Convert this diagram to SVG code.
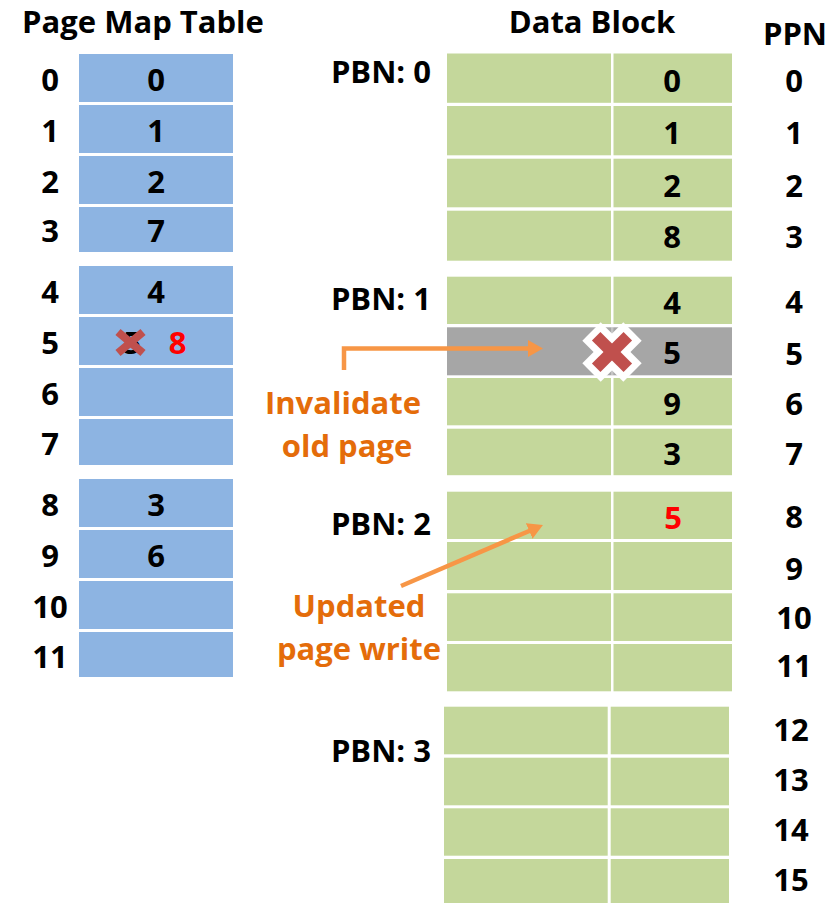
<svg xmlns="http://www.w3.org/2000/svg" width="833" height="903" viewBox="0 0 833 903">
<style>
text{font-family:"Open Sans","Noto Sans","Liberation Sans",sans-serif;font-weight:bold;font-size:31px;fill:#000}
.c{text-anchor:middle}
.r{text-anchor:end}
.red{fill:#ff0000}
.org{fill:#e46c0a}
.pm{fill:#8db4e2}
.db{fill:#c4d79b}
.gr{fill:#a6a6a6}
.arr{fill:none;stroke:#f79646;stroke-width:4.5}
.xr{stroke:#c0504d;stroke-linecap:butt}
</style>
<defs>
<marker id="ah" markerUnits="userSpaceOnUse" markerWidth="16" markerHeight="18" refX="2" refY="8.5" orient="auto">
<path d="M0,0 L15,8.5 L0,17 z" fill="#f79646"/>
</marker>
</defs>
<rect width="833" height="903" fill="#fff"/>

<g id="titles">
<text class="c" x="143" y="33">Page Map Table</text>
<text class="c" x="592" y="33">Data Block</text>
<text class="c" x="795" y="45">PPN</text>
</g>

<g id="page-map-table">
<g id="lpn0"><rect class="pm" x="79" y="54" width="154" height="48"/><text class="c" x="50" y="91">0</text><text class="c" x="156" y="91">0</text></g>
<g id="lpn1"><rect class="pm" x="79" y="105" width="154" height="48"/><text class="c" x="50" y="142">1</text><text class="c" x="156" y="142">1</text></g>
<g id="lpn2"><rect class="pm" x="79" y="156" width="154" height="48"/><text class="c" x="50" y="193">2</text><text class="c" x="156" y="193">2</text></g>
<g id="lpn3"><rect class="pm" x="79" y="207" width="154" height="45"/><text class="c" x="50" y="242">3</text><text class="c" x="156" y="242">7</text></g>
<g id="lpn4"><rect class="pm" x="79" y="266" width="154" height="48"/><text class="c" x="50" y="303">4</text><text class="c" x="156" y="303">4</text></g>
<g id="lpn5"><rect class="pm" x="79" y="317" width="154" height="48"/><text class="c" x="50" y="354">5</text><text class="c" x="132" y="354">5</text>
<line class="xr" x1="118" y1="332" x2="143" y2="353" stroke-width="8"/><line class="xr" x1="143" y1="332" x2="118" y2="353" stroke-width="8"/>
<text class="c red" x="177.5" y="354">8</text></g>
<g id="lpn6"><rect class="pm" x="79" y="368" width="154" height="48"/><text class="c" x="50" y="405">6</text></g>
<g id="lpn7"><rect class="pm" x="79" y="419" width="154" height="46"/><text class="c" x="50" y="455">7</text></g>
<g id="lpn8"><rect class="pm" x="79" y="479" width="154" height="48"/><text class="c" x="50" y="516">8</text><text class="c" x="156" y="516">3</text></g>
<g id="lpn9"><rect class="pm" x="79" y="530" width="154" height="48"/><text class="c" x="50" y="567">9</text><text class="c" x="156" y="567">6</text></g>
<g id="lpn10"><rect class="pm" x="79" y="581" width="154" height="48"/><text class="c" x="50" y="618">10</text></g>
<g id="lpn11"><rect class="pm" x="79" y="632" width="154" height="45"/><text class="c" x="50" y="668">11</text></g>
</g>

<g id="data-block">
<g id="pbn0">
<text class="r" x="431" y="83">PBN: 0</text>
<rect class="db" x="447" y="53.5" width="164" height="49.3"/><rect class="db" x="613.5" y="53.5" width="118.5" height="49.3"/>
<rect class="db" x="447" y="106" width="164" height="49.3"/><rect class="db" x="613.5" y="106" width="118.5" height="49.3"/>
<rect class="db" x="447" y="158.7" width="164" height="48.6"/><rect class="db" x="613.5" y="158.7" width="118.5" height="48.6"/>
<rect class="db" x="447" y="210.7" width="164" height="50"/><rect class="db" x="613.5" y="210.7" width="118.5" height="50"/>
<text class="c" x="672" y="92">0</text><text class="c" x="672" y="144">1</text><text class="c" x="672" y="197">2</text><text class="c" x="672" y="248">8</text>
</g>
<g id="pbn1">
<text class="r" x="431" y="310">PBN: 1</text>
<rect class="db" x="447" y="276.7" width="164" height="47.3"/><rect class="db" x="613.5" y="276.7" width="118.5" height="47.3"/>
<rect class="gr" x="447" y="327.3" width="285" height="48"/><line x1="612.2" y1="327.3" x2="612.2" y2="375.3" stroke="#fff" stroke-opacity="0.35" stroke-width="2.5"/>
<rect class="db" x="447" y="378" width="164" height="47.3"/><rect class="db" x="613.5" y="378" width="118.5" height="47.3"/>
<rect class="db" x="447" y="428.7" width="164" height="46.5"/><rect class="db" x="613.5" y="428.7" width="118.5" height="46.5"/>
<text class="c" x="672" y="314">4</text><text class="c" x="672" y="364">5</text><text class="c" x="672" y="415">9</text><text class="c" x="672" y="465">3</text>
</g>
<g id="pbn2">
<text class="r" x="431" y="535">PBN: 2</text>
<rect class="db" x="447" y="491.7" width="164" height="47.3"/><rect class="db" x="613.5" y="491.7" width="118.5" height="47.3"/>
<rect class="db" x="447" y="542" width="164" height="48"/><rect class="db" x="613.5" y="542" width="118.5" height="48"/>
<rect class="db" x="447" y="593.3" width="164" height="47.7"/><rect class="db" x="613.5" y="593.3" width="118.5" height="47.7"/>
<rect class="db" x="447" y="644" width="164" height="47.3"/><rect class="db" x="613.5" y="644" width="118.5" height="47.3"/>
<text class="c red" x="673" y="529">5</text>
</g>
<g id="pbn3">
<text class="r" x="431" y="762">PBN: 3</text>
<rect class="db" x="444" y="706.7" width="163.7" height="47.6"/><rect class="db" x="610.7" y="706.7" width="118.3" height="47.6"/>
<rect class="db" x="444" y="757.7" width="163.7" height="47.6"/><rect class="db" x="610.7" y="757.7" width="118.3" height="47.6"/>
<rect class="db" x="444" y="808.3" width="163.7" height="47.4"/><rect class="db" x="610.7" y="808.3" width="118.3" height="47.4"/>
<rect class="db" x="444" y="859" width="163.7" height="44"/><rect class="db" x="610.7" y="859" width="118.3" height="44"/>
</g>
</g>

<g id="ppn-labels">
<text class="c" x="794" y="92">0</text>
<text class="c" x="794" y="144">1</text>
<text class="c" x="794" y="197">2</text>
<text class="c" x="794" y="248">3</text>
<text class="c" x="794" y="313">4</text>
<text class="c" x="794" y="365">5</text>
<text class="c" x="794" y="415">6</text>
<text class="c" x="794" y="465">7</text>
<text class="c" x="794" y="528">8</text>
<text class="c" x="794" y="580">9</text>
<text class="c" x="794" y="629">10</text>
<text class="c" x="794" y="677">11</text>
<text class="c" x="791" y="741">12</text>
<text class="c" x="791" y="791">13</text>
<text class="c" x="791" y="841">14</text>
<text class="c" x="791" y="891">15</text>
</g>

<g id="invalid-mark">
<line x1="591.5" y1="331.5" x2="632.5" y2="372.5" stroke="#fff" stroke-width="26"/>
<line x1="632.5" y1="331.5" x2="591.5" y2="372.5" stroke="#fff" stroke-width="26"/>
<line class="xr" x1="596.2" y1="336.2" x2="627.8" y2="367.8" stroke-width="12"/>
<line class="xr" x1="627.8" y1="336.2" x2="596.2" y2="367.8" stroke-width="12"/>
</g>

<g id="labels">
<text class="c org" x="343" y="414">Invalidate</text>
<text class="c org" x="347" y="457">old page</text>
<text class="c org" x="359" y="617">Updated</text>
<text class="c org" x="359" y="660">page write</text>
</g>

<g id="connectors">
<path class="arr" d="M344,370 V348.5 H530" marker-end="url(#ah)"/>
<path class="arr" d="M401,586 L531,530.2" marker-end="url(#ah)"/>
</g>
</svg>
